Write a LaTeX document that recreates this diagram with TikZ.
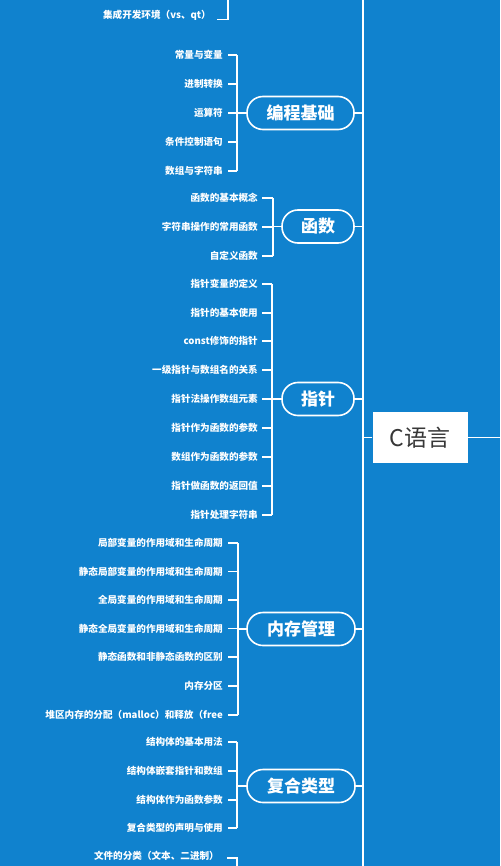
\documentclass[tikz,border=0pt]{standalone}
\usepackage{fontspec}
\setmainfont{Noto Sans CJK SC}
\newfontfamily\cjk{Noto Sans CJK SC}
\definecolor{bgblue}{RGB}{16,130,206}
\definecolor{boxtext}{RGB}{55,55,55}
\tikzset{
  leaf/.style={anchor=east, inner sep=0pt, text=white, font=\cjk\bfseries\fontsize{9.6}{10}\selectfont},
  pill/.style={draw=white, line width=1.6pt, rounded corners=16pt, minimum height=33pt, inner sep=0pt, text=white, font=\cjk\bfseries\fontsize{17}{18}\selectfont},
  rootbox/.style={fill=white, draw=none, minimum width=95pt, minimum height=51pt, inner sep=0pt, text=boxtext, font=\cjk\fontsize{23}{24}\selectfont},
  conn/.style={draw=white, line width=1.6pt},
  spine/.style={draw=white, line width=1.4pt}
}
\begin{document}
\begin{tikzpicture}[x=1pt,y=-1pt]
\fill[bgblue] (0,0) rectangle (500,866);
\useasboundingbox (0,0) rectangle (500,866);

% spine and root
\coordinate (sTop) at (363,0);
\coordinate (sBot) at (363,866);
\draw[spine] (sTop) -- (sBot);
\node[rootbox] (root) at (420,437.5) {C语言};
\coordinate (rEnd) at (500,437.5);
\draw[spine] (root.west) -- (root.west -| sTop);
\draw[spine] (root.east) -- (rEnd);

% top partial branch
\node[leaf] (ide) at (211,15.5) {集成开发环境（vs、qt）};
\coordinate (ideT) at (228,0);
\coordinate (ideB) at (228,19.5);
\coordinate (ideS) at (217,19.5);
\draw[conn] (ideT) -- (ideB) -- (ideS);

% 编程基础
\node[pill, minimum width=107pt] (p1) at (300.5,113) {编程基础};
\coordinate (b1) at (237,0);
\foreach \n/\y/\t in {a/55/常量与变量, b/84/进制转换, c/113/运算符, d/142/条件控制语句, e/171/数组与字符串}{
  \node[leaf] (p1\n) at (223,\y) {\t};
  \draw[conn] ([xshift=5pt]p1\n.east) -- (p1\n.east -| b1);
}
\draw[conn] (p1a.east -| b1) -- (p1e.east -| b1);
\draw[conn] (p1.west) -- (p1.west -| b1);
\draw[conn] (p1.east) -- (p1.east -| sTop);

% 函数
\node[pill, minimum width=72pt] (p2) at (318,226.5) {函数};
\coordinate (b2) at (273,0);
\foreach \n/\y/\t in {a/198/函数的基本概念, b/227/字符串操作的常用函数, c/256/自定义函数}{
  \node[leaf] (p2\n) at (258,\y) {\t};
  \draw[conn] ([xshift=4pt]p2\n.east) -- (p2\n.east -| b2);
}
\draw[conn] (p2a.east -| b2) -- (p2c.east -| b2);
\draw[conn] (p2.west) -- (p2.west -| b2);
\draw[conn] (p2.east) -- (p2.east -| sTop);

% 指针
\node[pill, minimum width=72pt] (p3) at (318,399) {指针};
\coordinate (b3) at (272,0);
\foreach \n/\y/\t in {a/284/指针变量的定义, b/313/指针的基本使用, c/341/const修饰的指针, d/370/一级指针与数组名的关系, e/399/指针法操作数组元素, f/428/指针作为函数的参数, g/457/数组作为函数的参数, h/486/指针做函数的返回值, i/515/指针处理字符串}{
  \node[leaf] (p3\n) at (258,\y) {\t};
  \draw[conn] ([xshift=4pt]p3\n.east) -- (p3\n.east -| b3);
}
\draw[conn] (p3a.east -| b3) -- (p3i.east -| b3);
\draw[conn] (p3.west) -- (p3.west -| b3);
\draw[conn] (p3.east) -- (p3.east -| sTop);

% 内存管理
\node[pill, minimum width=108pt] (p4) at (301,629) {内存管理};
\coordinate (b4) at (238,0);
\foreach \n/\y/\t in {a/543/局部变量的作用域和生命周期, b/571.5/静态局部变量的作用域和生命周期, c/600/全局变量的作用域和生命周期, d/628.5/静态全局变量的作用域和生命周期, e/657/静态函数和非静态函数的区别, f/686/内存分区, g/715/堆区内存的分配（malloc）和释放（free}{
  \node[leaf] (p4\n) at (223,\y) {\t};
  \draw[conn] ([xshift=5pt]p4\n.east) -- (p4\n.east -| b4);
}
\draw[conn] (p4a.east -| b4) -- (p4g.east -| b4);
\draw[conn] (p4.west) -- (p4.west -| b4);
\draw[conn] (p4.east) -- (p4.east -| sTop);

% 复合类型
\node[pill, minimum width=108pt] (p5) at (301,786) {复合类型};
\coordinate (b5) at (237,0);
\foreach \n/\y/\t in {a/742/结构体的基本用法, b/771/结构体嵌套指针和数组, c/800/结构体作为函数参数, d/828/复合类型的声明与使用}{
  \node[leaf] (p5\n) at (223,\y) {\t};
  \draw[conn] ([xshift=5pt]p5\n.east) -- (p5\n.east -| b5);
}
\draw[conn] (p5a.east -| b5) -- (p5d.east -| b5);
\draw[conn] (p5.west) -- (p5.west -| b5);
\draw[conn] (p5.east) -- (p5.east -| sTop);

% bottom partial branch
\node[leaf] (file) at (219,855.5) {文件的分类（文本、二进制）};
\coordinate (fT) at (237,858);
\coordinate (fB) at (237,866);
\coordinate (fS) at (227,858);
\draw[conn] (fS) -- (fT) -- (fB);
\end{tikzpicture}
\end{document}
